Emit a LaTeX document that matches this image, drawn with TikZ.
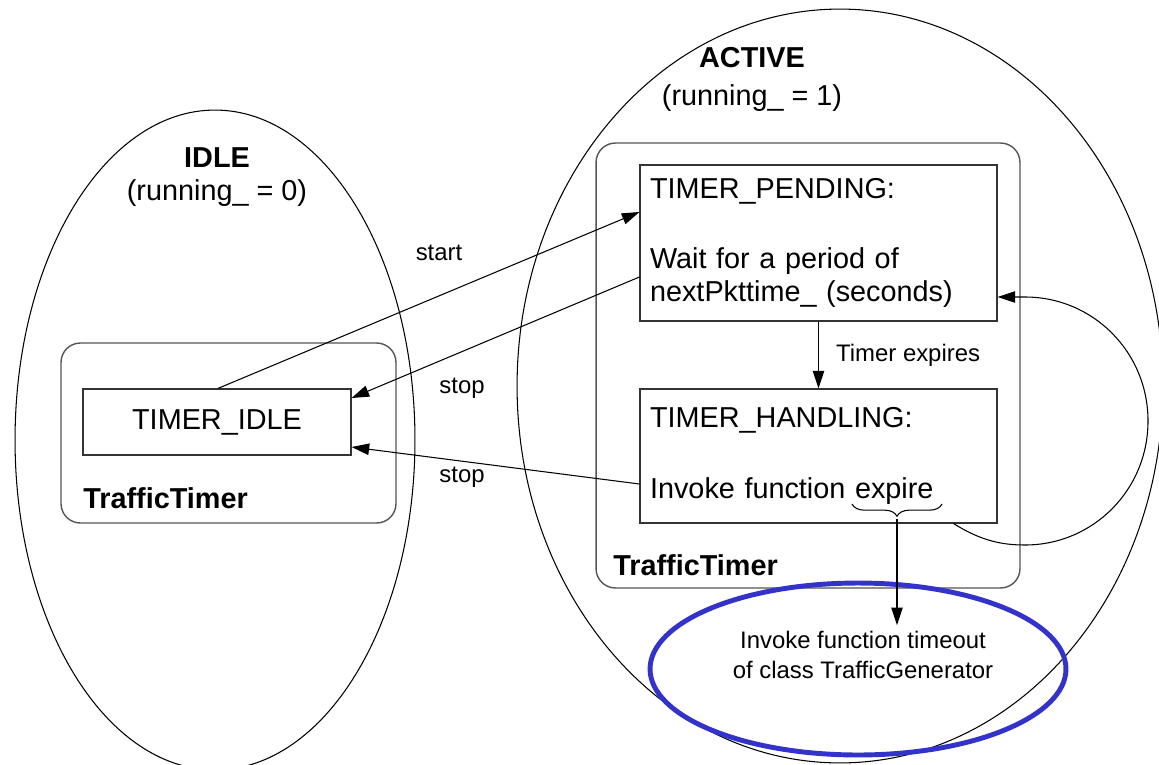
\documentclass[tikz,border=0pt]{standalone}
\usepackage{fontspec}
\setmainfont{Liberation Sans}
\usetikzlibrary{shapes.geometric, arrows.meta, positioning, calc, decorations.pathreplacing}
\definecolor{boxEdge}{HTML}{333333}
\definecolor{frameEdge}{HTML}{555555}
\definecolor{callBlue}{HTML}{3333CC}
\newcommand{\bigtxt}{\fontsize{16.4}{19.3}\selectfont}
\newcommand{\smalltxt}{\fontsize{13.6}{17}\selectfont}
\tikzset{
  mode/.style={draw=black, line width=0.6pt, ellipse, inner sep=0pt},
  timerframe/.style={draw=frameEdge, line width=0.8pt, rounded corners=11pt},
  statebox/.style={draw=boxEdge, line width=0.7pt, inner xsep=0.2cm, align=left,
                   text width=6.74cm, font=\bigtxt},
  lbl/.style={font=\smalltxt},
  arrow/.style={-{Triangle[length=10pt, width=6.5pt]}, line width=0.6pt},
}
\begin{document}
\begin{tikzpicture}[x=0.02cm, y=-0.02cm]
\clip (0,0) rectangle (1159,764);
% the two modes
\node[mode, minimum width=8cm, minimum height=13.2cm] (idle) at (215,440) {};
\node[mode, minimum width=12.92cm, minimum height=15.08cm] (active) at (840,386) {};
\node[font=\bigtxt\bfseries] (idlename) at (217,158) {IDLE};
\node[font=\bigtxt] (idlerun) at (217,193) {(running\_ = 0)};
\node[font=\bigtxt\bfseries] (activename) at (752,58) {ACTIVE};
\node[font=\bigtxt] (activerun) at (752,98) {(running\_ = 1)};
% TrafficTimer frames
\node[timerframe, minimum width=6.7cm, minimum height=3.6cm] (idleframe) at (228.5,433) {};
\node[timerframe, minimum width=8.48cm, minimum height=8.9cm] (activeframe) at (808,365.5) {};
\node[font=\bigtxt\bfseries, anchor=west, inner sep=0pt] (idletimer) at (83,498) {TrafficTimer};
\node[font=\bigtxt\bfseries, anchor=west, inner sep=0pt] (activetimer) at (613,565) {TrafficTimer};
% states
\node[statebox, align=center, text width=4.96cm, minimum height=1.32cm] (timeridle) at (217,422) {TIMER\_IDLE};
\node[statebox, minimum height=3.12cm] (pending) at (818.5,243)
  {TIMER\_PENDING:\\[20.4pt]Wait for a period of\\nextPkttime\_ (seconds)};
\node[statebox, minimum height=2.68cm] (handling) at (818.5,456)
  {TIMER\_HANDLING:\\[21.5pt]Invoke function expire};
% called function
\node[ellipse, draw=callBlue, line width=2.8pt, minimum width=8.32cm, minimum height=3.44cm, inner sep=0pt] (gen) at (858,669) {};
\node[lbl, align=center] (genlabel) at (863,655) {Invoke function timeout\\of class TrafficGenerator};
% transitions
\draw[arrow] ($(timeridle.north)+(1,0)$) -- ($(pending.west)+(0,-31)$);
\draw[arrow] ($(pending.west)+(0,34)$) -- ($(timeridle.east)+(0,-24)$);
\draw[arrow] ($(handling.west)+(0,28)$) -- ($(timeridle.east)+(0,25)$);
\draw[arrow] (pending.south) -- (handling.north);
\draw[arrow] ($(handling.south east)+(-44,0)$) .. controls (980,540) and (1000,545) .. (1025,545)
  .. controls (1093,545) and (1148,490) .. (1148,421)
  .. controls (1148,352) and (1093,297) .. (1025,297) -- ($(pending.east)+(0,54)$);
\node[lbl] (startlbl) at (439,253) {start};
\node[lbl] (stoplbl) at (462,388) {stop};
\node[lbl] (stoplbltwo) at (462,477) {stop};
\node[lbl, anchor=west] (expirelbl) at (830,355) {Timer expires};
% brace under expire
\draw[line width=0.6pt, decorate, decoration={brace, amplitude=7pt, mirror}] (852,504) -- (942,504);
\coordinate (expiretip) at (897,519);
\draw[arrow] (expiretip) -- (expiretip |- genlabel.north);
\end{tikzpicture}
\end{document}
